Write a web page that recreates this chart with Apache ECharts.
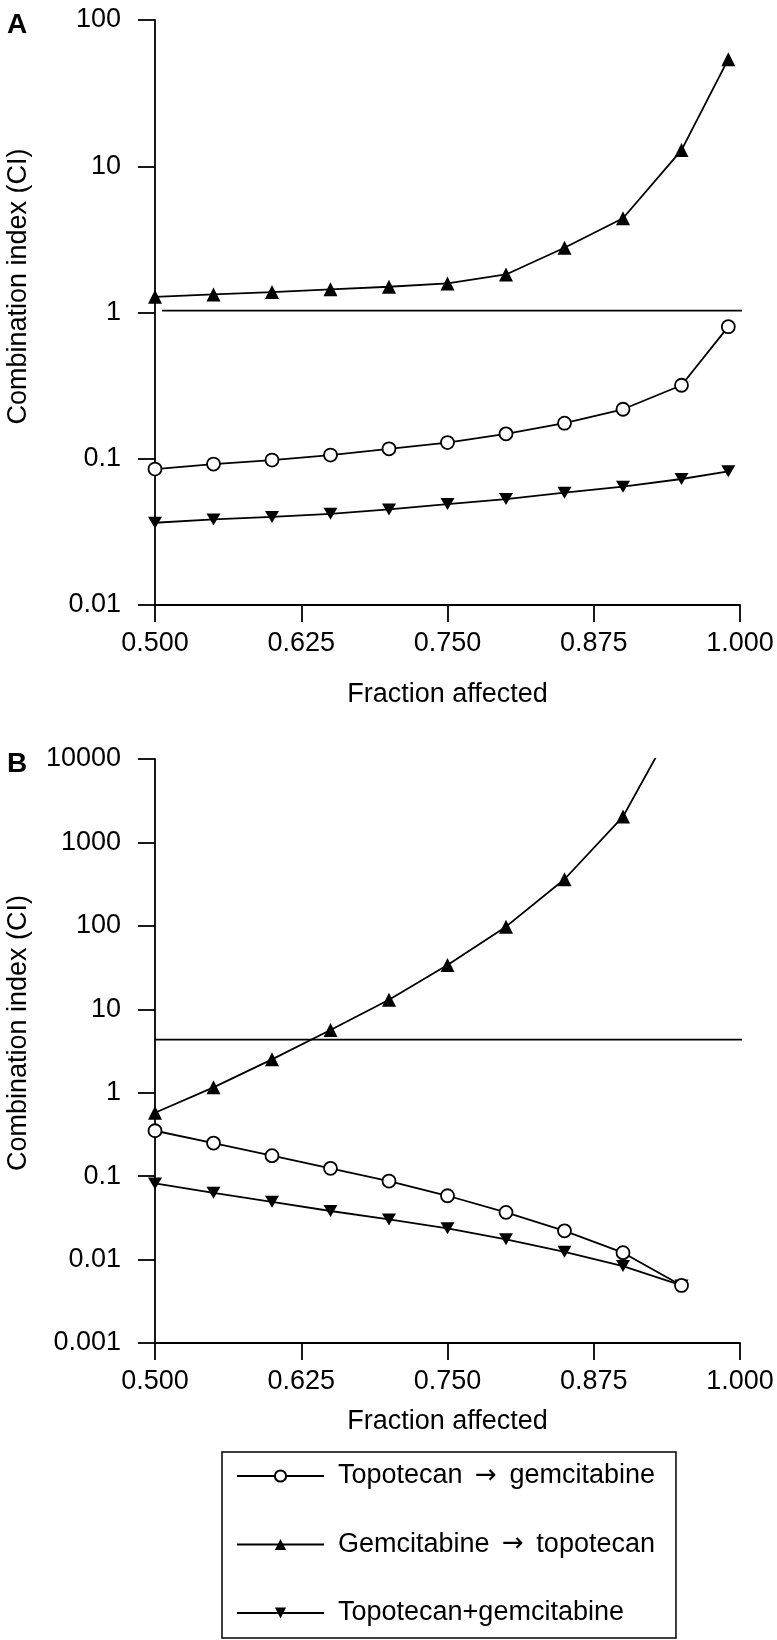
<!DOCTYPE html>
<html><head><meta charset="utf-8">
<script src="https://cdn.jsdelivr.net/npm/echarts/dist/echarts.min.js"></script>
<style>html,body{margin:0;padding:0;background:#fff}#c{width:777px;height:1640px}</style>
</head><body><div id="c"></div>
<script>
// ---- data ----
const seriesNames = ['Topotecan \u2192 gemcitabine', 'Gemcitabine \u2192 topotecan', 'Topotecan+gemcitabine'];
const xTickLabels = ['0.500', '0.625', '0.750', '0.875', '1.000'];
const yTickLabelsA = ['0.01', '0.1', '1', '10', '100'];
const yTickLabelsB = ['0.001', '0.01', '0.1', '1', '10', '100', '1000', '10000'];
const axisTitleX = 'Fraction affected';
const axisTitleY = 'Combination index (CI)';

// Panel A
const faA = [0.50, 0.55, 0.60, 0.65, 0.70, 0.75, 0.80, 0.85, 0.90, 0.95, 0.99];
const topoGemA = [0.085, 0.092, 0.098, 0.106, 0.117, 0.129, 0.148, 0.175, 0.218, 0.318, 0.80];
const gemTopoA = [1.28, 1.33, 1.38, 1.44, 1.50, 1.58, 1.82, 2.77, 4.41, 12.9, 54];
const simulA   = [0.0365, 0.0385, 0.040, 0.042, 0.045, 0.049, 0.053, 0.0586, 0.0644, 0.0727, 0.082];
const refLineA = [[0.506, 1.03], [1.005, 1.03]];

// Panel B
const faB = [0.50, 0.55, 0.60, 0.65, 0.70, 0.75, 0.80, 0.85, 0.90, 0.95];
const topoGemB = [0.35, 0.249, 0.176, 0.124, 0.0873, 0.0582, 0.0368, 0.0221, 0.0121, 0.0049];
const gemTopoB = [0.575, 1.16, 2.51, 5.65, 13.0, 34.0, 97.8, 362, 2040, 37800];
const simulB   = [0.0819, 0.0632, 0.0493, 0.0382, 0.0303, 0.0237, 0.0175, 0.0124, 0.00836, 0.0049];
const refLineB = [[0.5, 4.32], [1.01, 4.32]];

// ---- chart ----
const FONT = '"Liberation Sans", Arial, Helvetica, sans-serif';
const chart = echarts.init(document.getElementById('c'), null, {renderer: 'canvas'});
const pair = (xs, ys) => xs.map((x, i) => [x, ys[i]]);
const downTri = 'path://M0,0L10,0L5,9Z';

function xAxisFor(gi, gap) {
  return {
    type: 'value', gridIndex: gi, min: 0.5, max: 1.0, interval: 0.125,
    axisLine: {onZero: false, lineStyle: {color: '#000', width: 1.8}},
    axisTick: {length: 17, lineStyle: {color: '#000', width: 1.8}},
    splitLine: {show: false},
    axisLabel: {color: '#000', fontFamily: FONT, fontSize: 27, margin: 25,
      formatter: v => xTickLabels[Math.round((v - 0.5) / 0.125)]},
    name: axisTitleX, nameLocation: 'middle', nameGap: gap,
    nameTextStyle: {color: '#000', fontFamily: FONT, fontSize: 27}
  };
}
function yAxisFor(gi, min, max, labels) {
  const e0 = Math.round(Math.log10(min));
  return {
    type: 'log', logBase: 10, gridIndex: gi, min: min, max: max,
    axisLine: {onZero: false, lineStyle: {color: '#000', width: 1.8}},
    axisTick: {length: 17, lineStyle: {color: '#000', width: 1.8}},
    splitLine: {show: false},
    minorTick: {show: false},
    axisLabel: {color: '#000', fontFamily: FONT, fontSize: 27, margin: 34,
      formatter: v => labels[Math.round(Math.log10(v)) - e0]}
  };
}
function mkSeries(gi, idx, data) {
  const base = {
    type: 'line', name: seriesNames[idx], xAxisIndex: gi, yAxisIndex: gi,
    data: data, clip: true, animation: false,
    lineStyle: {color: '#000', width: 1.8},
    emphasis: {disabled: true}
  };
  if (idx === 0) {
    Object.assign(base, {symbol: 'circle', symbolSize: 13, z: 4,
      itemStyle: {color: '#fff', borderColor: '#000', borderWidth: 1.8}});
  } else if (idx === 1) {
    Object.assign(base, {symbol: 'triangle', symbolSize: 14, z: 3,
      itemStyle: {color: '#000', borderColor: '#000', borderWidth: 0}});
  } else {
    Object.assign(base, {symbol: downTri, symbolSize: [14, 12], z: 2,
      itemStyle: {color: '#000', borderColor: '#000', borderWidth: 0}});
  }
  return base;
}
function refSeries(gi, data) {
  return {type: 'line', name: 'ref', xAxisIndex: gi, yAxisIndex: gi, data: data,
    clip: false, symbol: 'none', animation: false, silent: true,
    lineStyle: {color: '#000', width: 1.8}, z: 1};
}
function txt(text, x, y, size, weight, rot, align) {
  return {type: 'text', x: x, y: y, rotation: rot || 0, silent: true,
    style: {text: text, fontFamily: FONT, fontSize: size, fontWeight: weight, fill: '#000',
      align: align, verticalAlign: 'middle'}};
}

const option = {
  backgroundColor: '#fff',
  animation: false,
  grid: [
    {left: 155, top: 20, width: 585, height: 585},
    {left: 155, top: 759, width: 585, height: 584}
  ],
  xAxis: [xAxisFor(0, 76), xAxisFor(1, 65)],
  yAxis: [yAxisFor(0, 0.01, 100, yTickLabelsA), yAxisFor(1, 0.001, 10000, yTickLabelsB)],
  legend: {
    data: seriesNames, orient: 'vertical', left: 222, top: 1452,
    itemWidth: 87, itemHeight: 14, itemGap: 38.5,
    padding: [9, 21, 10, 14],
    borderColor: '#000', borderWidth: 1.5,
    selectedMode: false,
    formatter: n => n.replace('\u2192', '{ar|\u2192}'),
    textStyle: {color: '#000', fontFamily: FONT, fontSize: 27, lineHeight: 30, padding: [0, 0, 0, 9],
      rich: {ar: {fontFamily: '"DejaVu Sans", sans-serif', fontSize: 26, lineHeight: 30, color: '#000', padding: [0, 5, 0, 5]}}}
  },
  series: [
    refSeries(0, refLineA),
    mkSeries(0, 2, pair(faA, simulA)),
    mkSeries(0, 1, pair(faA, gemTopoA)),
    mkSeries(0, 0, pair(faA, topoGemA)),
    refSeries(1, refLineB),
    mkSeries(1, 2, pair(faB, simulB)),
    mkSeries(1, 1, pair(faB, gemTopoB)),
    mkSeries(1, 0, pair(faB, topoGemB))
  ],
  graphic: [
    txt('A', 7, 25, 28, 'bold', 0, 'left'),
    txt('B', 7, 764, 28, 'bold', 0, 'left'),
    txt(axisTitleY, 19, 286.5, 27, 'normal', Math.PI / 2, 'center'),
    txt(axisTitleY, 19, 1033, 27, 'normal', Math.PI / 2, 'center')
  ]
};
chart.setOption(option);
</script>
</body></html>
